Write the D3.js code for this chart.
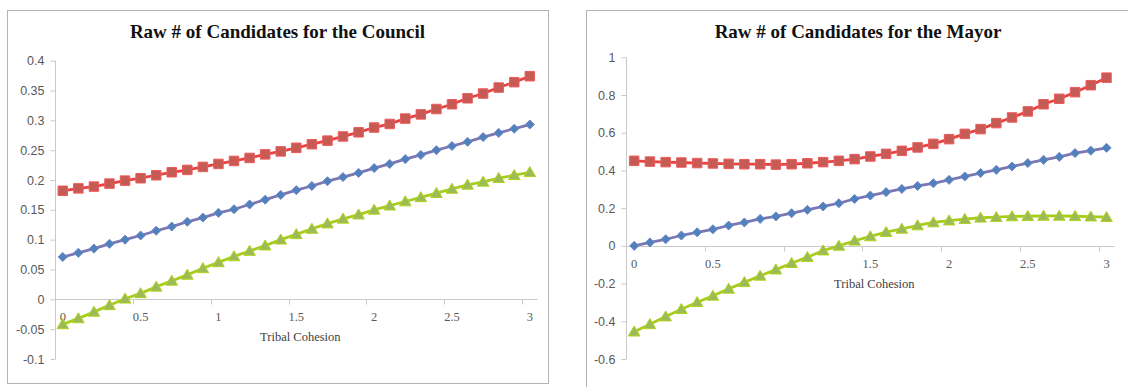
<!DOCTYPE html>
<html>
<head>
<meta charset="utf-8">
<script src="https://cdn.jsdelivr.net/npm/d3@7/dist/d3.min.js"></script>
<style>
  html, body { margin: 0; padding: 0; background: #ffffff; }
  svg { display: block; }
</style>
</head>
<body>
<svg id="chart" width="1128" height="387"></svg>
<script>
// Tribal cohesion values along the category axis
const cohesion = [0, 0.1, 0.2, 0.3, 0.4, 0.5, 0.6, 0.7, 0.8, 0.9,
                  1.0, 1.1, 1.2, 1.3, 1.4, 1.5, 1.6, 1.7, 1.8, 1.9,
                  2.0, 2.1, 2.2, 2.3, 2.4, 2.5, 2.6, 2.7, 2.8, 2.9, 3.0];
const xTickLabels = ["0", "0.5", "1", "1.5", "2", "2.5", "3"];
const xTickValues = [0, 0.5, 1.0, 1.5, 2.0, 2.5, 3.0];

// Council panel
const councilTitle = "Raw # of Candidates for the Council";
const councilYTicks = [-0.1, -0.05, 0, 0.05, 0.1, 0.15, 0.2, 0.25, 0.3, 0.35, 0.4];
const councilDiamond = [0.071, 0.078, 0.085, 0.093, 0.100, 0.107, 0.115, 0.122, 0.130, 0.137,
                        0.145, 0.151, 0.159, 0.167, 0.175, 0.183, 0.190, 0.198, 0.205, 0.212,
                        0.220, 0.227, 0.235, 0.242, 0.250, 0.257, 0.264, 0.272, 0.279, 0.286, 0.293];
const councilSquare  = [0.182, 0.186, 0.189, 0.194, 0.199, 0.203, 0.208, 0.213, 0.217, 0.222,
                        0.227, 0.232, 0.237, 0.243, 0.248, 0.254, 0.260, 0.266, 0.273, 0.280,
                        0.288, 0.294, 0.303, 0.310, 0.319, 0.327, 0.337, 0.345, 0.355, 0.364, 0.374];
const councilTriangle = [-0.042, -0.032, -0.021, -0.010, 0.001, 0.010, 0.021, 0.031, 0.041, 0.052,
                         0.062, 0.072, 0.081, 0.090, 0.100, 0.109, 0.118, 0.127, 0.135, 0.142,
                         0.150, 0.157, 0.164, 0.171, 0.178, 0.185, 0.192, 0.197, 0.203, 0.208, 0.213];

// Mayor panel
const mayorTitle = "Raw # of Candidates for the Mayor";
const mayorYTicks = [-0.6, -0.4, -0.2, 0, 0.2, 0.4, 0.6, 0.8, 1];
const mayorDiamond = [0.000, 0.018, 0.035, 0.055, 0.072, 0.088, 0.108, 0.124, 0.143, 0.156,
                      0.173, 0.191, 0.209, 0.226, 0.249, 0.267, 0.285, 0.302, 0.318, 0.332,
                      0.350, 0.368, 0.386, 0.403, 0.421, 0.439, 0.456, 0.472, 0.492, 0.505, 0.520];
const mayorSquare  = [0.451, 0.447, 0.444, 0.442, 0.439, 0.437, 0.435, 0.433, 0.433, 0.431,
                      0.433, 0.438, 0.444, 0.451, 0.460, 0.474, 0.488, 0.504, 0.522, 0.541,
                      0.566, 0.594, 0.619, 0.651, 0.681, 0.713, 0.751, 0.780, 0.815, 0.852, 0.892];
const mayorTriangle = [-0.455, -0.416, -0.375, -0.336, -0.299, -0.265, -0.228, -0.193, -0.159, -0.126,
                       -0.092, -0.060, -0.025, 0.000, 0.027, 0.050, 0.073, 0.090, 0.108, 0.124,
                       0.134, 0.142, 0.149, 0.152, 0.156, 0.157, 0.159, 0.159, 0.157, 0.155, 0.152];

const xAxisTitle = "Tribal Cohesion";

// Office-style series appearance
const seriesStyles = [
  { key: "diamond",  symbol: d3.symbolDiamond2, size: 52, line: "#7b76b4", fill: "#4f81bd", stroke: "#6f86c6" },
  { key: "square",   symbol: d3.symbolSquare,   size: 90, line: "#ec4141", fill: "#c65a55", stroke: "#ef5a5a" },
  { key: "triangle", symbol: d3.symbolTriangle, size: 58, line: "#a8cc1c", fill: "#9bbb59", stroke: "#b2d21e" }
];

const svg = d3.select("#chart");

function drawPanel(opt) {
  const g = svg.append("g");

  // chart frame
  g.append("rect")
    .attr("x", opt.frame[0] + 0.5).attr("y", opt.frame[1] + 0.5)
    .attr("width", opt.frame[2]).attr("height", opt.frame[3])
    .attr("fill", "#ffffff").attr("stroke", "#b4b4b4").attr("stroke-width", 1);

  // title
  g.append("text")
    .attr("x", opt.frame[0] + opt.frame[2] / 2)
    .attr("y", opt.titleY)
    .attr("text-anchor", "middle")
    .attr("font-family", "'Liberation Serif', 'DejaVu Serif', serif")
    .attr("font-weight", "bold")
    .attr("font-size", 19)
    .attr("fill", "#111111")
    .text(opt.title);

  const x = d3.scaleBand().domain(cohesion).range(opt.xRange).padding(0);
  const y = d3.scaleLinear().domain(opt.yDomain).range(opt.yRange);
  const cx = v => x(v) + x.bandwidth() / 2;
  const axisColor = "#c9c9c9";

  // vertical value axis
  const yAxis = d3.axisLeft(y)
    .tickValues(opt.yTicks)
    .tickFormat(d => d.toString())
    .tickSize(5)
    .tickPadding(6);
  const yg = g.append("g")
    .attr("transform", `translate(${Math.round(opt.xRange[0]) + 0.5},0)`)
    .call(yAxis);
  yg.select(".domain").attr("stroke", axisColor).attr("d",
    `M0,${y(opt.yDomain[1])}V${y(opt.yDomain[0])}`);
  yg.selectAll(".tick line").attr("stroke", axisColor);
  yg.selectAll(".tick text")
    .attr("font-family", "'Liberation Sans', Arial, sans-serif")
    .attr("font-size", 12.5)
    .attr("fill", "#595959");

  // horizontal category axis crossing at zero
  const y0 = Math.round(y(0)) + 0.5;
  const xg = g.append("g");
  xg.append("line")
    .attr("x1", opt.xRange[0]).attr("x2", opt.xRange[1])
    .attr("y1", y0).attr("y2", y0)
    .attr("stroke", axisColor);
  // tick marks sit on category boundaries, every fifth category
  const boundaryTicks = cohesion.filter((c, i) => i % 5 === 0);
  xg.selectAll("line.tick")
    .data(boundaryTicks)
    .join("line")
    .attr("class", "tick")
    .attr("x1", d => Math.round(x(d)) + 0.5).attr("x2", d => Math.round(x(d)) + 0.5)
    .attr("y1", y0).attr("y2", y0 + 5)
    .attr("stroke", axisColor);
  xg.selectAll("text.tick")
    .data(xTickValues)
    .join("text")
    .attr("class", "tick")
    .attr("x", d => cx(d))
    .attr("y", y0 + 21)
    .attr("text-anchor", "middle")
    .attr("font-family", "'Liberation Serif', 'DejaVu Serif', serif")
    .attr("font-size", 12.5)
    .attr("fill", "#595959")
    .text((d, i) => xTickLabels[i]);

  // axis title
  g.append("text")
    .attr("x", (opt.xRange[0] + opt.xRange[1]) / 2 + 4)
    .attr("y", y0 + 41)
    .attr("text-anchor", "middle")
    .attr("font-family", "'Liberation Serif', 'DejaVu Serif', serif")
    .attr("font-size", 12.5)
    .attr("fill", "#404040")
    .text(xAxisTitle);

  // series lines and markers
  const line = d3.line().x((d, i) => cx(cohesion[i])).y(d => y(d));
  seriesStyles.forEach(s => {
    const values = opt.series[s.key];
    g.append("path")
      .datum(values)
      .attr("d", line)
      .attr("fill", "none")
      .attr("stroke", s.line)
      .attr("stroke-width", 2.8)
      .attr("stroke-linejoin", "round");
    const sym = d3.symbol().type(s.symbol).size(s.size);
    g.append("g").selectAll("path")
      .data(values)
      .join("path")
      .attr("transform", (d, i) => `translate(${cx(cohesion[i])},${y(d) + (s.key === "triangle" ? 1 : 0)})`)
      .attr("d", sym)
      .attr("fill", s.fill)
      .attr("stroke", s.stroke)
      .attr("stroke-width", 1);
  });
}

drawPanel({
  title: councilTitle,
  frame: [7, 10, 541, 373],
  titleY: 38,
  xRange: [55, 537.6],
  yDomain: [-0.1, 0.4],
  yRange: [359, 60.7],
  yTicks: councilYTicks,
  series: { diamond: councilDiamond, square: councilSquare, triangle: councilTriangle }
});

drawPanel({
  title: mayorTitle,
  frame: [586, 10, 544, 380],
  titleY: 38,
  xRange: [626.3, 1114.4],
  yDomain: [-0.6, 1],
  yRange: [359, 57.3],
  yTicks: mayorYTicks,
  series: { diamond: mayorDiamond, square: mayorSquare, triangle: mayorTriangle }
});
</script>
</body>
</html>
